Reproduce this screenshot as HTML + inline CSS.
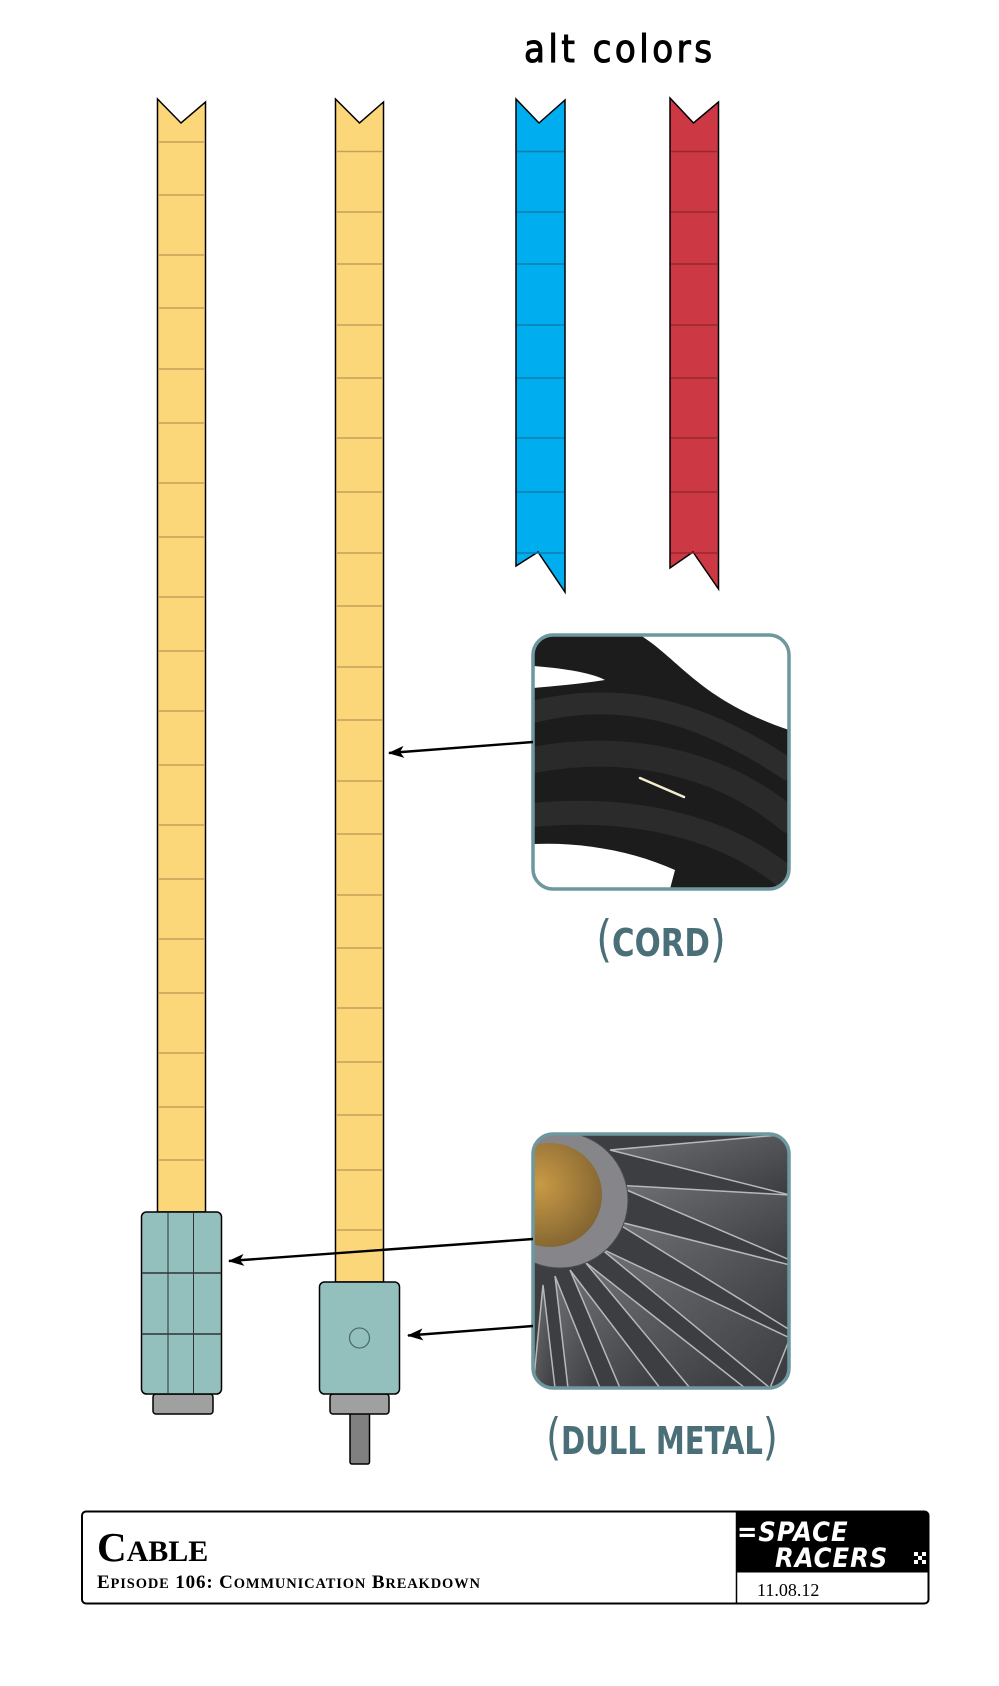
<!DOCTYPE html>
<html><head><meta charset="utf-8"><style>
html,body{margin:0;padding:0;background:#fff;width:999px;height:1686px;overflow:hidden}
svg{display:block}
</style></head><body>
<svg width="999" height="1686" viewBox="0 0 999 1686" xmlns="http://www.w3.org/2000/svg">
<defs>
<marker id="ah" markerWidth="16" markerHeight="12" refX="15" refY="6" orient="auto" markerUnits="userSpaceOnUse">
<path d="M0,0 L16,6 L0,12 L4,6 Z" fill="#000"/></marker>
<clipPath id="c1"><rect x="533" y="635" width="256" height="254" rx="20"/></clipPath>
<clipPath id="c2"><rect x="533" y="1134" width="256" height="254" rx="20"/></clipPath>
<radialGradient id="gold" cx="0.4" cy="0.4" r="0.7"><stop offset="0" stop-color="#c99a45"/><stop offset="1" stop-color="#7d6030"/></radialGradient>
<linearGradient id="blade" x1="0" y1="0" x2="1" y2="1"><stop offset="0" stop-color="#6e7074"/><stop offset="1" stop-color="#3a3c40"/></linearGradient>
</defs>

<text x="524" y="62" font-family="'DejaVu Sans Condensed','DejaVu Sans',sans-serif" font-size="38" fill="#000" stroke="#000" stroke-width="1" letter-spacing="2" textLength="190">alt colors</text>

<!-- cable 1 -->
<path d="M157.5,99 L181,123 L205.5,102 L205.5,1212 L157.5,1212 Z" fill="#fcd77a" stroke="#000" stroke-width="1.5"/>
<g stroke="#c4a15a" stroke-width="1.5">
<line x1="158" x2="205" y1="142" y2="142"/><line x1="158" x2="205" y1="195" y2="195"/><line x1="158" x2="205" y1="255" y2="255"/><line x1="158" x2="205" y1="308" y2="308"/><line x1="158" x2="205" y1="369" y2="369"/><line x1="158" x2="205" y1="423" y2="423"/><line x1="158" x2="205" y1="483" y2="483"/><line x1="158" x2="205" y1="537" y2="537"/><line x1="158" x2="205" y1="597" y2="597"/><line x1="158" x2="205" y1="651" y2="651"/><line x1="158" x2="205" y1="711" y2="711"/><line x1="158" x2="205" y1="765" y2="765"/><line x1="158" x2="205" y1="825" y2="825"/><line x1="158" x2="205" y1="879" y2="879"/><line x1="158" x2="205" y1="939" y2="939"/><line x1="158" x2="205" y1="993" y2="993"/><line x1="158" x2="205" y1="1053" y2="1053"/><line x1="158" x2="205" y1="1107" y2="1107"/><line x1="158" x2="205" y1="1160" y2="1160"/>
</g>
<rect x="153" y="1394" width="60" height="20" rx="3" fill="#a0a0a0" stroke="#000" stroke-width="1.5"/>
<rect x="141.5" y="1212" width="80" height="182" rx="5" fill="#93bfbc" stroke="#000" stroke-width="1.5"/>
<g stroke="#333" stroke-width="1"><line x1="168" y1="1213" x2="168" y2="1393"/><line x1="193.5" y1="1213" x2="193.5" y2="1393"/>
<line x1="142" y1="1273" x2="221" y2="1273" stroke-width="1.5"/><line x1="142" y1="1334" x2="221" y2="1334" stroke-width="1.5"/></g>

<!-- cable 2 -->
<path d="M335.5,99 L359.5,123 L383.5,102 L383.5,1282 L335.5,1282 Z" fill="#fcd77a" stroke="#000" stroke-width="1.5"/>
<g stroke="#c4a15a" stroke-width="1.5">
<line x1="336" x2="383" y1="151.5" y2="151.5"/><line x1="336" x2="383" y1="212" y2="212"/><line x1="336" x2="383" y1="264" y2="264"/><line x1="336" x2="383" y1="325" y2="325"/><line x1="336" x2="383" y1="378" y2="378"/><line x1="336" x2="383" y1="438" y2="438"/><line x1="336" x2="383" y1="492" y2="492"/><line x1="336" x2="383" y1="553" y2="553"/><line x1="336" x2="383" y1="606" y2="606"/><line x1="336" x2="383" y1="667" y2="667"/><line x1="336" x2="383" y1="720" y2="720"/><line x1="336" x2="383" y1="781" y2="781"/><line x1="336" x2="383" y1="834" y2="834"/><line x1="336" x2="383" y1="895" y2="895"/><line x1="336" x2="383" y1="948" y2="948"/><line x1="336" x2="383" y1="1008" y2="1008"/><line x1="336" x2="383" y1="1062" y2="1062"/><line x1="336" x2="383" y1="1115" y2="1115"/><line x1="336" x2="383" y1="1170" y2="1170"/><line x1="336" x2="383" y1="1230" y2="1230"/>
</g>
<rect x="350" y="1410" width="19.5" height="54" rx="2" fill="#808080" stroke="#000" stroke-width="1.5"/>
<rect x="330" y="1394" width="59" height="20" rx="3" fill="#a0a0a0" stroke="#000" stroke-width="1.5"/>
<rect x="319.5" y="1282" width="80" height="112" rx="5" fill="#93bfbc" stroke="#000" stroke-width="1.5"/>
<circle cx="359.5" cy="1338" r="10" fill="none" stroke="#4d6e6e" stroke-width="1.3"/>

<!-- blue -->
<path d="M516,99 L539,123 L565,100 L565,592 L538,552 L516,566 Z" fill="#00adee" stroke="#000" stroke-width="1.5"/>
<g stroke="#0a7fae" stroke-width="1.5">
<line x1="517" x2="564" y1="151.5" y2="151.5"/><line x1="517" x2="564" y1="212" y2="212"/><line x1="517" x2="564" y1="264" y2="264"/><line x1="517" x2="564" y1="325" y2="325"/><line x1="517" x2="564" y1="378" y2="378"/><line x1="517" x2="564" y1="438" y2="438"/><line x1="517" x2="564" y1="492" y2="492"/><line x1="517" x2="564" y1="553" y2="553"/></g>
<!-- red -->
<path d="M670,98 L693.5,123 L718.5,102 L718.5,589 L693,552 L670,568 Z" fill="#cc3843" stroke="#000" stroke-width="1.5"/>
<g stroke="#9a2830" stroke-width="1.5">
<line x1="671" x2="718" y1="151.5" y2="151.5"/><line x1="671" x2="718" y1="212" y2="212"/><line x1="671" x2="718" y1="264" y2="264"/><line x1="671" x2="718" y1="325" y2="325"/><line x1="671" x2="718" y1="378" y2="378"/><line x1="671" x2="718" y1="438" y2="438"/><line x1="671" x2="718" y1="492" y2="492"/><line x1="671" x2="718" y1="553" y2="553"/></g>

<!-- photo 1: cord -->
<g clip-path="url(#c1)">
<rect x="533" y="635" width="256" height="254" fill="#1c1c1c"/>
<path d="M640,635 C680,660 700,700 789,730 L789,635 Z" fill="#fff"/>
<path d="M533,666 C560,668 590,672 605,680 C580,684 555,686 533,688 Z" fill="#fff"/>
<path d="M533,844 C580,842 630,850 675,870 L670,889 L533,889 Z" fill="#fff"/>
<g fill="none" stroke-linecap="round">
<path d="M533,712 C620,690 700,710 789,770" stroke="#2c2c2c" stroke-width="22"/>
<path d="M533,760 C640,740 730,770 789,820" stroke="#2a2a2a" stroke-width="26"/>
<path d="M533,815 C640,805 730,830 789,880" stroke="#2b2b2b" stroke-width="24"/>
<path d="M640,778 L684,797" stroke="#f4eed0" stroke-width="2.5"/>
</g>
</g>
<rect x="533" y="635" width="256" height="254" rx="20" fill="none" stroke="#6f979f" stroke-width="3.5"/>
<text x="661" y="956" text-anchor="middle" font-family="'DejaVu Sans Condensed','Liberation Sans Narrow','Liberation Sans',sans-serif" font-weight="bold" font-size="38" fill="#4a6f78" transform="translate(661 0) scale(0.9 1) translate(-661 0)"><tspan font-weight="normal" font-size="50">(</tspan>CORD<tspan font-weight="normal" font-size="50">)</tspan></text>

<!-- photo 2: metal -->
<g clip-path="url(#c2)">
<rect x="533" y="1134" width="256" height="254" fill="#3c3e42"/>
<g fill="url(#blade)" stroke="#b8b8b8" stroke-width="1.5">
<path d="M610,1150 L790,1134 L790,1195 Z"/>
<path d="M615,1185 L790,1195 L790,1260 Z"/>
<path d="M612,1220 L790,1265 L790,1330 Z"/>
<path d="M600,1248 L790,1338 L770,1388 Z"/>
<path d="M585,1262 L745,1388 L690,1388 Z"/>
<path d="M570,1270 L660,1388 L620,1388 Z"/>
<path d="M555,1276 L600,1388 L568,1388 Z"/>
<path d="M543,1285 L555,1388 L533,1388 Z"/>
</g>
<circle cx="560" cy="1200" r="68" fill="#85858a" stroke="#4a4a4a"/>
<circle cx="550" cy="1195" r="52" fill="url(#gold)"/>
</g>
<rect x="533" y="1134" width="256" height="254" rx="20" fill="none" stroke="#6f979f" stroke-width="3.5"/>
<text x="662" y="1454" text-anchor="middle" font-family="'DejaVu Sans Condensed','Liberation Sans Narrow','Liberation Sans',sans-serif" font-weight="bold" font-size="38" fill="#4a6f78" transform="translate(662 0) scale(0.85 1) translate(-662 0)"><tspan font-weight="normal" font-size="50">(</tspan>DULL METAL<tspan font-weight="normal" font-size="50">)</tspan></text>

<!-- arrows -->
<g stroke="#000" stroke-width="2.4" fill="none">
<line x1="533" y1="742" x2="389" y2="753" marker-end="url(#ah)"/>
<line x1="533" y1="1239" x2="229" y2="1261" marker-end="url(#ah)"/>
<line x1="533" y1="1326" x2="408" y2="1335.5" marker-end="url(#ah)"/>
</g>

<!-- title block -->
<rect x="82" y="1511.5" width="846.5" height="92" rx="4" fill="#fff" stroke="#000" stroke-width="2"/>
<path d="M736.5,1511.5 H924.5 A4,4 0 0 1 928.5,1515.5 V1572.5 H736.5 Z" fill="#000"/>
<line x1="736.5" y1="1511.5" x2="736.5" y2="1603.5" stroke="#000" stroke-width="1.5"/>
<text x="757" y="1596" font-family="'Liberation Serif',serif" font-size="18" fill="#000">11.08.12</text>
<text x="737" y="1541" font-family="'DejaVu Sans Condensed','DejaVu Sans',sans-serif" font-weight="bold" font-style="italic" font-size="27" fill="#fff" letter-spacing="1">=SPACE</text>
<text x="775" y="1567" font-family="'DejaVu Sans Condensed','DejaVu Sans',sans-serif" font-weight="bold" font-style="italic" font-size="27" fill="#fff" letter-spacing="1">RACERS</text>
<g fill="#fff"><rect x="914" y="1552" width="4" height="4"/><rect x="922" y="1552" width="4" height="4"/><rect x="918" y="1556" width="4" height="4"/><rect x="914" y="1560" width="4" height="4"/><rect x="922" y="1560" width="4" height="4"/></g>
<text x="97" y="1561" font-family="'Liberation Serif',serif" font-weight="bold" font-size="41" fill="#000">C<tspan font-size="30">ABLE</tspan></text>
<text x="97" y="1588" font-family="'Liberation Serif',serif" font-weight="bold" font-size="19" fill="#000" textLength="383">E<tspan font-size="14.5">PISODE</tspan> 106: C<tspan font-size="14.5">OMMUNICATION</tspan> B<tspan font-size="14.5">REAKDOWN</tspan></text>
</svg>
</body></html>
